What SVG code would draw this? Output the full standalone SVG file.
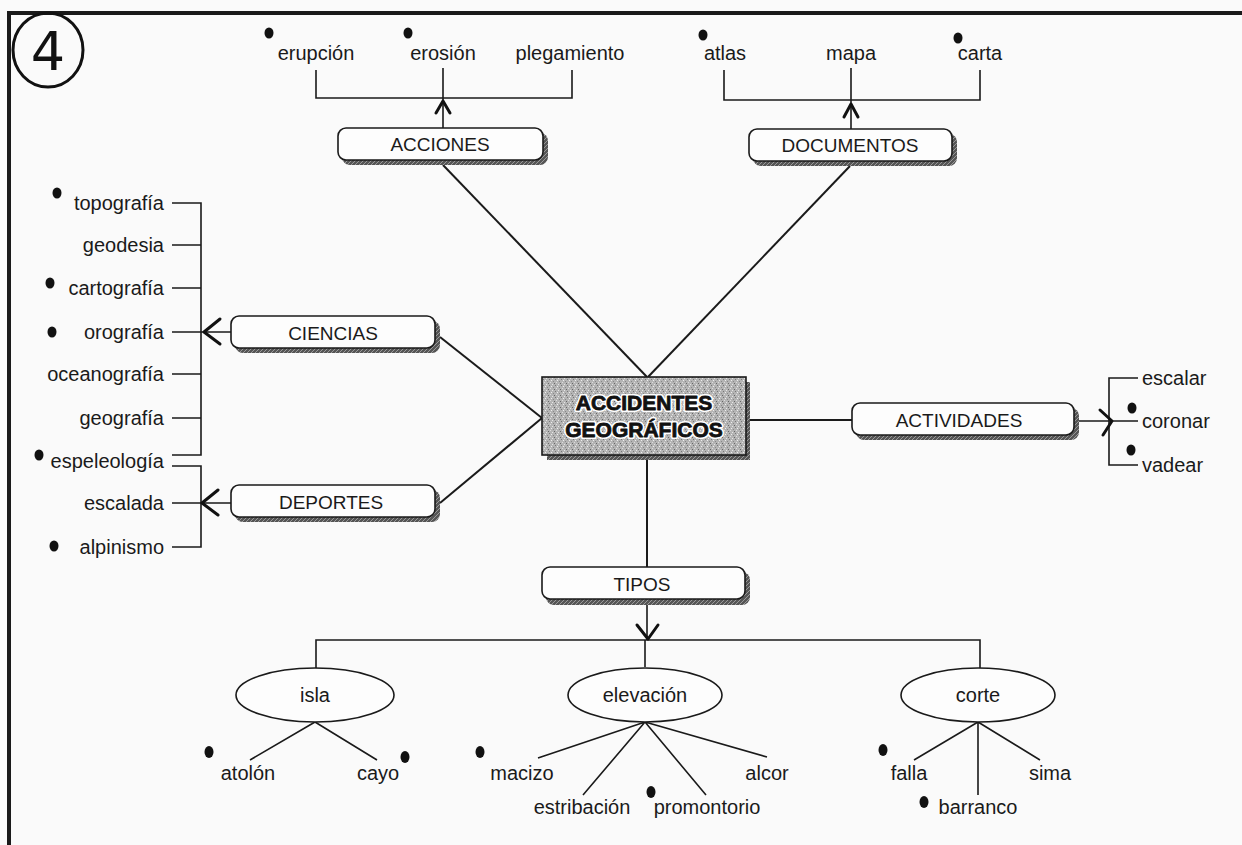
<svg xmlns="http://www.w3.org/2000/svg" width="1242" height="845" viewBox="0 0 1242 845">
<style>
.t{font-family:"Liberation Sans",Arial,sans-serif;font-size:20px;fill:#1a1a1a}
.m{text-anchor:middle}
.e{text-anchor:end}
.bl{font-family:"Liberation Sans",Arial,sans-serif;font-size:19px;fill:#1a1a1a;text-anchor:middle}
.ln{stroke:#1a1a1a;stroke-width:1.6;fill:none}
.lt{stroke:#1a1a1a;stroke-width:2;fill:none}
.chev{stroke:#111;stroke-width:3;fill:none;stroke-linecap:round;stroke-linejoin:round}
.box{fill:#fdfdfd;stroke:#1a1a1a;stroke-width:1.6}
.sh{fill:url(#hatch)}
.dot{fill:#111}
.ov{fill:#fdfdfd;stroke:#1a1a1a;stroke-width:1.6}
.halo{font-family:"Liberation Sans",Arial,sans-serif;font-weight:bold;font-size:21px;text-anchor:middle;fill:#fff;stroke:#fff;stroke-width:4;stroke-linejoin:round}
.title{font-family:"Liberation Sans",Arial,sans-serif;font-weight:bold;font-size:21px;text-anchor:middle;fill:#111;stroke:#111;stroke-width:0.8;stroke-linejoin:round}
</style>
<defs>
<pattern id="hatch" width="4" height="4" patternUnits="userSpaceOnUse">
<rect width="4" height="4" fill="#555"/>
<path d="M0 4L4 0" stroke="#999" stroke-width="1"/>
</pattern>
<pattern id="grain" width="6" height="6" patternUnits="userSpaceOnUse">
<rect width="6" height="6" fill="#b4b4b4"/>
<rect x="0" y="0" width="1" height="1" fill="#e6e6e6"/>
<rect x="3" y="1" width="1" height="1" fill="#777"/>
<rect x="1" y="3" width="1" height="1" fill="#888"/>
<rect x="4" y="4" width="1" height="1" fill="#ddd"/>
<rect x="2" y="5" width="1" height="1" fill="#666"/>
<rect x="5" y="2" width="1" height="1" fill="#eee"/>
</pattern>
</defs>
<rect width="1242" height="845" fill="#fafafa"/>
<g id="frame">
<path d="M9 845V13H1242" stroke="#1a1a1a" stroke-width="4" fill="none"/>
<ellipse cx="48" cy="50" rx="35" ry="37" fill="none" stroke="#111" stroke-width="3"/>
<text x="48" y="70" text-anchor="middle" style="font-family:'DejaVu Sans',sans-serif;font-size:54px;fill:#111">4</text>
</g>
<g id="connectors">
<path class="ln" d="M316 70V98H572V70M443 68V128"/>
<path class="chev" d="M436 113L443 101L450 113"/>
<path class="lt" d="M443 165L647 377"/>
<path class="ln" d="M724 70V100H980V70M851 68V130"/>
<path class="chev" d="M844 117L851 104L858 117"/>
<path class="lt" d="M850 166L648 377"/>
<path class="ln" d="M172 203H201V455H172M172 245H201M172 288H201M172 332H231M172 374H201M172 418H201"/>
<path class="chev" d="M220 319L204 332L220 344"/>
<path class="lt" d="M440 337L542 418"/>
<path class="ln" d="M172 466H201V547H172M172 503H231"/>
<path class="chev" d="M218 490L202 503L218 515"/>
<path class="lt" d="M440 503L542 418"/>
<path class="lt" d="M750 420H852"/>
<path class="ln" d="M1078 421H1138M1138 378H1109V465H1138"/>
<path class="chev" d="M1100 410L1112 421L1103 435"/>
<path class="lt" d="M647 460V567"/>
<path class="ln" d="M647 605V640M316 668V640H980V668M645 640V667"/>
<path class="chev" d="M637 625L648 639L658 625"/>
<path class="ln" d="M315 722L250 760M315 722L377 760"/>
<path class="ln" d="M645 722L538 758M645 722L583 795M645 722L706 795M645 722L767 757"/>
<path class="ln" d="M978 722L914 760M978 722V795M978 722L1040 760"/>
</g>
<g id="top-left-items">
<text class="t m" x="316" y="60">erupción</text>
<text class="t m" x="443" y="60">erosión</text>
<text class="t m" x="570" y="60">plegamiento</text>
<ellipse class="dot" cx="269" cy="33" rx="4.5" ry="5.5"/>
<ellipse class="dot" cx="408" cy="33" rx="4.5" ry="5.5"/>
</g>
<g id="top-right-items">
<text class="t m" x="725" y="60">atlas</text>
<text class="t m" x="851" y="60">mapa</text>
<text class="t m" x="980" y="60">carta</text>
<ellipse class="dot" cx="703" cy="35" rx="4.5" ry="5.5"/>
<ellipse class="dot" cx="958" cy="38" rx="4.5" ry="5.5"/>
</g>
<g id="acciones">
<rect class="sh" x="342" y="133" width="206" height="32" rx="8"/>
<rect class="box" x="338" y="128" width="205" height="32" rx="8"/>
<text class="bl" x="440" y="151">ACCIONES</text>
</g>
<g id="documentos">
<rect class="sh" x="753" y="134" width="204" height="32" rx="8"/>
<rect class="box" x="749" y="129" width="203" height="32" rx="8"/>
<text class="bl" x="850" y="152">DOCUMENTOS</text>
</g>
<g id="ciencias">
<rect class="sh" x="235" y="321" width="205" height="32" rx="8"/>
<rect class="box" x="231" y="316" width="204" height="32" rx="8"/>
<text class="bl" x="333" y="340">CIENCIAS</text>
</g>
<g id="deportes">
<rect class="sh" x="235" y="490" width="205" height="32" rx="8"/>
<rect class="box" x="231" y="485" width="204" height="32" rx="8"/>
<text class="bl" x="331" y="509">DEPORTES</text>
</g>
<g id="ciencias-items">
<text class="t e" x="164" y="210">topografía</text>
<text class="t e" x="164" y="252">geodesia</text>
<text class="t e" x="164" y="295">cartografía</text>
<text class="t e" x="164" y="339">orografía</text>
<text class="t e" x="164" y="381">oceanografía</text>
<text class="t e" x="164" y="425">geografía</text>
<text class="t e" x="164" y="468">espeleología</text>
<ellipse class="dot" cx="57" cy="193" rx="4.5" ry="5.5"/>
<ellipse class="dot" cx="50" cy="283" rx="4.5" ry="5.5"/>
<ellipse class="dot" cx="52" cy="332" rx="4.5" ry="5.5"/>
<ellipse class="dot" cx="39" cy="455" rx="4.5" ry="5.5"/>
</g>
<g id="deportes-items">
<text class="t e" x="164" y="510">escalada</text>
<text class="t e" x="164" y="554">alpinismo</text>
<ellipse class="dot" cx="54" cy="546" rx="4.5" ry="5.5"/>
</g>
<g id="accidentes">
<rect x="547" y="382" width="203" height="78" fill="url(#hatch)"/>
<rect x="542" y="377" width="204" height="78" fill="url(#grain)" stroke="#1a1a1a" stroke-width="1.6"/>
<text class="halo" x="644" y="410">ACCIDENTES</text>
<text class="halo" x="644" y="437">GEOGRÁFICOS</text>
<text class="title" x="644" y="410">ACCIDENTES</text>
<text class="title" x="644" y="437">GEOGRÁFICOS</text>
</g>
<g id="actividades">
<rect class="sh" x="856" y="408" width="223" height="32" rx="8"/>
<rect class="box" x="852" y="403" width="222" height="32" rx="8"/>
<text class="bl" x="959" y="427">ACTIVIDADES</text>
</g>
<g id="actividades-items">
<text class="t" x="1142" y="385">escalar</text>
<text class="t" x="1142" y="428">coronar</text>
<text class="t" x="1142" y="472">vadear</text>
<ellipse class="dot" cx="1132" cy="408" rx="4.5" ry="5.5"/>
<ellipse class="dot" cx="1131" cy="450" rx="4.5" ry="5.5"/>
</g>
<g id="tipos">
<rect class="sh" x="546" y="572" width="204" height="33" rx="8"/>
<rect class="box" x="542" y="567" width="203" height="32" rx="8"/>
<text class="bl" x="642" y="591">TIPOS</text>
</g>
<g id="isla">
<ellipse class="ov" cx="315" cy="695" rx="79" ry="27"/>
<text class="t m" x="315" y="702">isla</text>
<text class="t m" x="248" y="780">atolón</text>
<text class="t m" x="378" y="780">cayo</text>
<ellipse class="dot" cx="209" cy="752" rx="4.5" ry="6"/>
<ellipse class="dot" cx="405" cy="757" rx="4.5" ry="6"/>
</g>
<g id="elevacion">
<ellipse class="ov" cx="645" cy="695" rx="77" ry="27"/>
<text class="t m" x="645" y="702">elevación</text>
<text class="t m" x="522" y="780">macizo</text>
<text class="t m" x="767" y="780">alcor</text>
<text class="t m" x="582" y="814">estribación</text>
<text class="t m" x="707" y="814">promontorio</text>
<ellipse class="dot" cx="480" cy="752" rx="4.5" ry="6"/>
<ellipse class="dot" cx="651" cy="792" rx="4.5" ry="6"/>
</g>
<g id="corte">
<ellipse class="ov" cx="978" cy="695" rx="77" ry="27"/>
<text class="t m" x="978" y="702">corte</text>
<text class="t m" x="909" y="780">falla</text>
<text class="t m" x="1050" y="780">sima</text>
<text class="t m" x="978" y="814">barranco</text>
<ellipse class="dot" cx="883" cy="750" rx="4.5" ry="6"/>
<ellipse class="dot" cx="924" cy="802" rx="4.5" ry="6"/>
</g>
</svg>
